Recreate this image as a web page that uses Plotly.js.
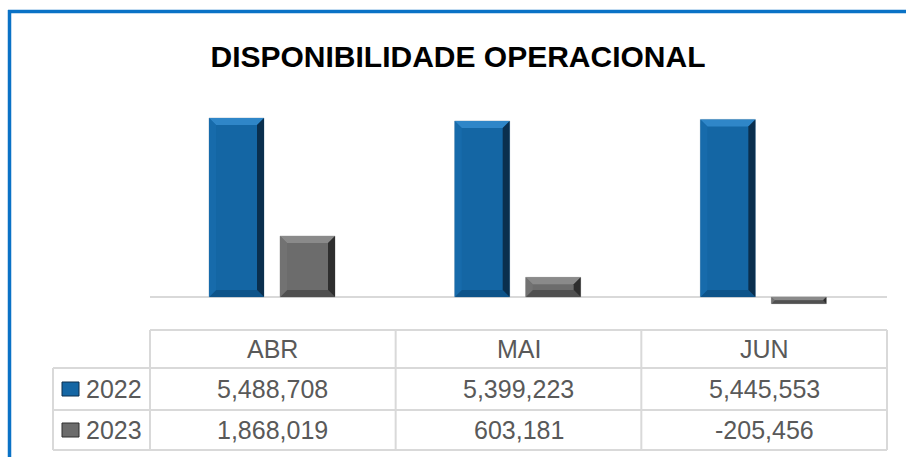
<!DOCTYPE html>
<html>
<head>
<meta charset="utf-8">
<script src="https://cdn.plot.ly/plotly-3.0.1.min.js"></script>
<style>html,body{margin:0;padding:0;background:#fff;}#chart{width:906px;height:457px;}</style>
</head>
<body>
<div id="chart"></div>
<script>
// ---- data ----
const categories = ["ABR", "MAI", "JUN"];
const seriesNames = ["2022", "2023"];
const values2022 = [5488708, 5399223, 5445553];
const values2023 = [1868019, 603181, -205456];

// ---- styling / layout constants ----
const W = 906, H = 457;
const M = {l: 150, r: 19, t: 100, b: 147};
const plotW = W - M.l - M.r, plotH = H - M.t - M.b;
const yRange = [-398600, 6040600];
const xRange = [-0.5, categories.length - 0.5];
const pxPerX = plotW / (xRange[1] - xRange[0]);
const pxPerY = plotH / (yRange[1] - yRange[0]);
const barW = 0.2239;
const offsets = [-0.2598, 0.0292];
const styles = [
  {body: "#1466a4", top: "#2f86c8", left: "#176bab", right: "#0a2f4e", bottom: "#0e548a", line: "#9fb3c3"},
  {body: "#6c6c6c", top: "#8a8a8a", left: "#727272", right: "#2e2e2e", bottom: "#505050", line: "#a8a8a8"}
];
const tableFont = {family: "Liberation Sans, Arial, sans-serif", size: 25, color: "#595959"};

const xIdx = categories.map((_, i) => i);
const allSeries = [values2022, values2023];

const traces = allSeries.map((vals, s) => ({
  type: "bar",
  name: seriesNames[s],
  x: xIdx,
  y: vals,
  width: barW,
  offset: offsets[s],
  marker: {color: styles[s].body, line: {color: styles[s].line, width: 0.6}},
  hoverinfo: "skip",
  showlegend: false
}));

// ---- bevel shapes computed from data ----
const shapes = [];
allSeries.forEach((vals, s) => {
  vals.forEach((v, i) => {
    const x0 = i + offsets[s], x1 = x0 + barW;
    const ylo = Math.min(0, v), yhi = Math.max(0, v);
    const hPx = (yhi - ylo) * pxPerY, wPx = barW * pxPerX;
    const dPx = Math.min(7, hPx / 2, wPx / 2);
    const dx = dPx / pxPerX, dy = dPx / pxPerY;
    const P = pts => "M" + pts.map(p => p[0] + "," + p[1]).join("L") + "Z";
    const add = (pts, c) => shapes.push({type: "path", xref: "x", yref: "y", path: P(pts), fillcolor: c, line: {width: 0}, layer: "above"});
    add([[x0, yhi], [x1, yhi], [x1 - dx, yhi - dy], [x0 + dx, yhi - dy]], styles[s].top);
    add([[x0, ylo], [x1, ylo], [x1 - dx, ylo + dy], [x0 + dx, ylo + dy]], styles[s].bottom);
    add([[x0, ylo], [x0, yhi], [x0 + dx, yhi - dy], [x0 + dx, ylo + dy]], styles[s].left);
    add([[x1, ylo], [x1, yhi], [x1 - dx, yhi - dy], [x1 - dx, ylo + dy]], styles[s].right);
  });
});

// ---- pixel helpers for table / frame ----
const px = x => (x - M.l) / plotW;
const py = y => (H - M.b - y) / plotH;
const gridColor = "#d9d9d9";
const hline = (xa, xb, y) => shapes.push({type: "line", xref: "paper", yref: "paper", x0: px(xa), x1: px(xb), y0: py(y), y1: py(y), line: {color: gridColor, width: 2}});
const vline = (x, ya, yb) => shapes.push({type: "line", xref: "paper", yref: "paper", x0: x, x1: x, y0: py(ya), y1: py(yb), line: {color: gridColor, width: 2}});

const tblLeft = 53, tblRight = M.l + plotW;
const rowY = [330, 368, 410, 450];
hline(M.l, tblRight, rowY[0]);
hline(tblLeft, tblRight, rowY[1]);
hline(tblLeft, tblRight, rowY[2]);
hline(tblLeft, tblRight, rowY[3]);
vline(px(tblLeft), rowY[1], rowY[3]);
for (let i = 0; i <= categories.length; i++) vline(i / categories.length, rowY[0], rowY[3]);

// legend swatches
[0, 1].forEach(s => {
  const yc = (rowY[s + 1] + rowY[s + 2]) / 2;
  shapes.push({type: "rect", xref: "paper", yref: "paper", x0: px(62), x1: px(79), y0: py(yc + 7), y1: py(yc - 7),
    fillcolor: styles[s].body, line: {color: styles[s].right, width: 1}});
});

// blue frame
shapes.push({type: "line", xref: "paper", yref: "paper", x0: px(8), x1: px(910), y0: py(11.5), y1: py(11.5), line: {color: "#0a72c6", width: 3.5}});
shapes.push({type: "line", xref: "paper", yref: "paper", x0: px(9.5), x1: px(9.5), y0: py(10), y1: py(470), line: {color: "#0a72c6", width: 3.5}});

// ---- table text ----
const annotations = [];
const fmt = v => v.toLocaleString("en-US");
categories.forEach((c, i) => {
  annotations.push({xref: "x", yref: "paper", x: i, y: py((rowY[0] + rowY[1]) / 2), text: c, showarrow: false, font: tableFont, xanchor: "center", yanchor: "middle"});
  allSeries.forEach((vals, s) => {
    annotations.push({xref: "x", yref: "paper", x: i, y: py((rowY[s + 1] + rowY[s + 2]) / 2), text: fmt(vals[i]), showarrow: false, font: tableFont, xanchor: "center", yanchor: "middle"});
  });
});
seriesNames.forEach((n, s) => {
  annotations.push({xref: "paper", yref: "paper", x: px(84), y: py((rowY[s + 1] + rowY[s + 2]) / 2), text: n, showarrow: false, font: tableFont, xanchor: "left", yanchor: "middle"});
});

const layout = {
  width: W, height: H,
  margin: M,
  paper_bgcolor: "#ffffff",
  plot_bgcolor: "#ffffff",
  title: {
    text: "DISPONIBILIDADE OPERACIONAL",
    font: {family: "Liberation Sans, Arial, sans-serif", size: 30, weight: "bold", color: "#000000"},
    xref: "container", yref: "container", x: 458 / W, y: 1 - 56 / H, xanchor: "center", yanchor: "middle"
  },
  barmode: "overlay",
  xaxis: {range: xRange, showgrid: false, zeroline: false, showticklabels: false, showline: false, ticks: "", fixedrange: true},
  yaxis: {range: yRange, showgrid: false, zeroline: true, zerolinecolor: gridColor, zerolinewidth: 2, showticklabels: false, showline: false, ticks: "", fixedrange: true},
  shapes: shapes,
  annotations: annotations,
  showlegend: false
};

Plotly.newPlot("chart", traces, layout, {displayModeBar: false, staticPlot: true});
</script>
</body>
</html>
